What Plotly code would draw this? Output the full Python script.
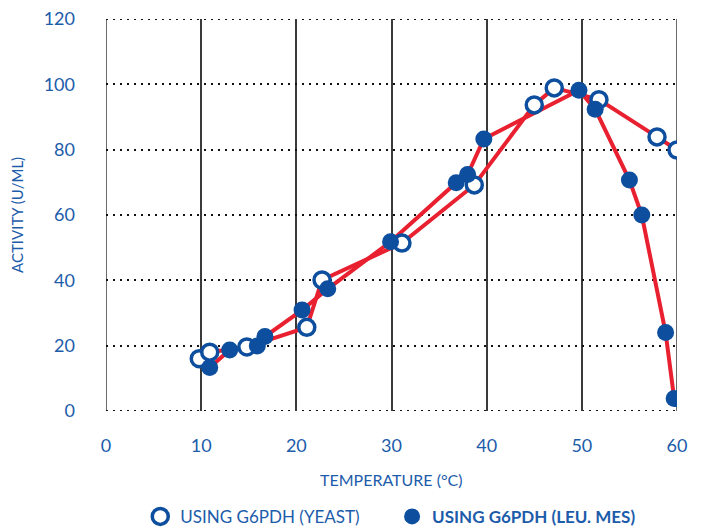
import plotly.graph_objects as go

# Data
yeast_temp = [9.8, 10.9, 14.8, 21.1, 22.7, 31.1, 38.7, 45.0, 47.1, 51.8, 57.9, 60.0]
yeast_act = [16.0, 18.0, 19.6, 25.6, 40.1, 51.4, 69.2, 93.7, 98.9, 95.3, 83.9, 79.9]

leu_temp = [10.9, 13.0, 15.9, 16.7, 20.6, 23.3, 29.9, 36.8, 38.0, 39.7, 49.7, 51.4, 55.0, 56.3, 58.8, 59.7]
leu_act = [13.3, 18.7, 19.9, 22.8, 30.9, 37.4, 51.8, 69.9, 72.4, 83.3, 98.2, 92.4, 70.7, 60.0, 24.0, 3.8]

x_ticks = [0, 10, 20, 30, 40, 50, 60]
y_ticks = [0, 20, 40, 60, 80, 100, 120]
x_range = [0, 60]
y_range = [0, 120]

RED = "#E8202F"
BLUE = "#0D4F9E"
TXT = "#1C5CAA"
FONT = "Lato, Roboto, sans-serif"
DOT = "2px,5px"

fig = go.Figure()
# lines first, so markers of both series sit on top
fig.add_trace(go.Scatter(x=yeast_temp, y=yeast_act, mode="lines",
                         line=dict(color=RED, width=4), showlegend=False, hoverinfo="skip"))
fig.add_trace(go.Scatter(x=leu_temp, y=leu_act, mode="lines",
                         line=dict(color=RED, width=4), showlegend=False, hoverinfo="skip"))
fig.add_trace(go.Scatter(x=yeast_temp, y=yeast_act, mode="markers",
                         name="USING G6PDH (YEAST)", legend="legend",
                         marker=dict(symbol="circle", size=16, color="white",
                                     line=dict(color=BLUE, width=3.5))))
fig.add_trace(go.Scatter(x=leu_temp, y=leu_act, mode="markers",
                         name="<b>USING G6PDH (LEU. MES)</b>", legend="legend2",
                         marker=dict(symbol="circle", size=17, color=BLUE,
                                     line=dict(width=0))))

fig.update_layout(
    width=706, height=529,
    margin=dict(l=106, r=29, t=19, b=118, autoexpand=False),
    paper_bgcolor="white", plot_bgcolor="white",
    font=dict(family=FONT, color=TXT),
    xaxis=dict(
        range=x_range, tickvals=x_ticks, showgrid=True, automargin=False,
        gridcolor="#3a3a3a", gridwidth=1.5, zeroline=False,
        showline=False, ticks="", ticklabelstandoff=22,
        tickfont=dict(size=18, color=TXT),
    ),
    yaxis=dict(
        range=y_range, tickvals=y_ticks, showgrid=True, automargin=False,
        gridcolor="#111111", gridwidth=2, griddash=DOT, zeroline=False,
        showline=False, ticks="", ticklabelstandoff=30,
        tickfont=dict(size=18, color=TXT),
    ),
    legend=dict(orientation="h", x=0.06, xanchor="left", y=-0.27, yanchor="middle",
                font=dict(size=17, color=TXT), bgcolor="rgba(0,0,0,0)"),
    legend2=dict(orientation="h", x=0.501, xanchor="left", y=-0.27, yanchor="middle",
                 font=dict(size=17, color=TXT), bgcolor="rgba(0,0,0,0)"),
    showlegend=True,
)

# axis titles
fig.add_annotation(text="TEMPERATURE (°C)", xref="paper", yref="paper",
                   x=0.5, y=-0.175, xanchor="center", yanchor="middle", showarrow=False,
                   font=dict(size=16, color=TXT))
fig.add_annotation(text="ACTIVITY (U/ML)", xref="paper", yref="paper",
                   x=-0.156, y=0.50, xanchor="center", yanchor="middle", showarrow=False,
                   textangle=-90, font=dict(size=15, color=TXT))

# frame lines at range edges (plotly omits grid lines there)
for xv in x_range:
    fig.add_shape(type="line", xref="x", yref="y", x0=xv, x1=xv, y0=y_range[0], y1=y_range[1],
                  line=dict(color="#3a3a3a", width=1.5), layer="below")
for yv in y_range:
    fig.add_shape(type="line", xref="x", yref="y", x0=x_range[0], x1=x_range[1], y0=yv, y1=yv,
                  line=dict(color="#111111", width=2, dash=DOT), layer="below")

fig.write_html("out.html", config={"displayModeBar": False},
               post_script="document.body.style.margin='0';")
